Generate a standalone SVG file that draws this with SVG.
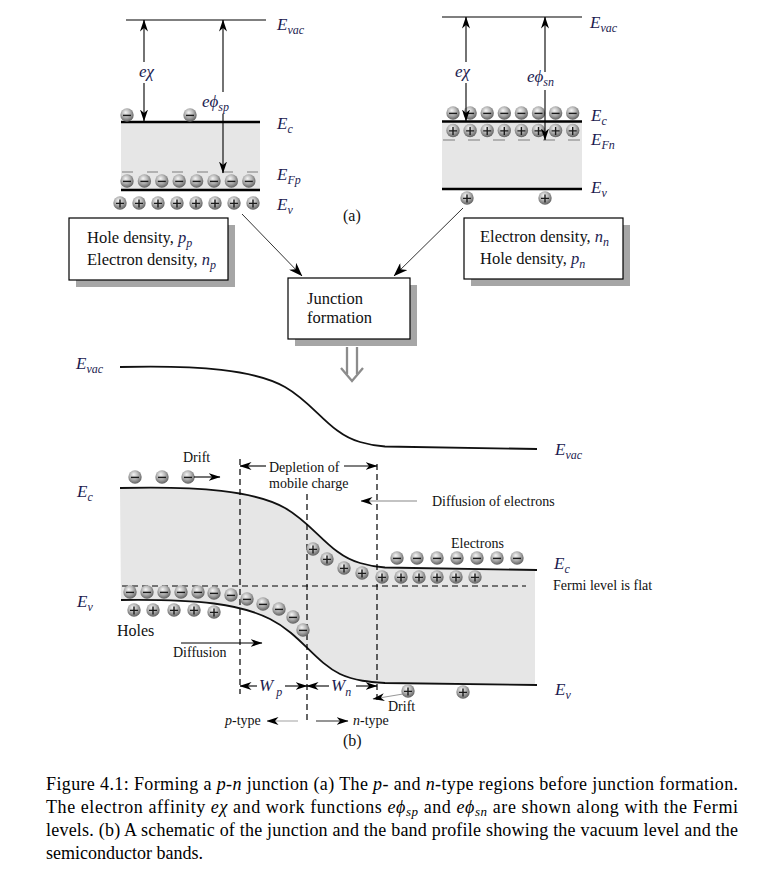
<svg xmlns="http://www.w3.org/2000/svg" width="759" height="871" viewBox="0 0 759 871">
<defs>
<style>
text{font-family:"Liberation Serif","Times New Roman",serif;fill:#111}
.i{font-style:italic;fill:#1c1c50}
.it{font-style:italic}
.lb{font-size:17px}
.sb{font-size:12px}
.bx{font-size:16.5px}
.an{font-size:14px}
.cap{font-size:18px;fill:#000}
.band{stroke:#000;stroke-width:2.4;fill:none}
.thin{stroke:#000;stroke-width:1.2;fill:none}
.curve{stroke:#111;stroke-width:1.8;fill:none}
.dash{stroke:#000;stroke-width:1.2;stroke-dasharray:6 4;fill:none}
.ar{stroke:#000;stroke-width:1.1;fill:none;marker-end:url(#a)}
.grey{fill:#e6e6e6}
.box{fill:#fff;stroke:#000;stroke-width:1.2}
.shadow{fill:#a6a6a6}
</style>
<radialGradient id="sph" cx="0.45" cy="0.4" r="0.6" fx="0.4" fy="0.3">
<stop offset="0" stop-color="#f4f4f4"/><stop offset="0.5" stop-color="#b8b8b8"/><stop offset="1" stop-color="#626262"/>
</radialGradient>
<g id="el"><circle r="6.7" fill="url(#sph)"/><path d="M-4,0.4H4" stroke="#1a1a1a" stroke-width="1.4"/></g>
<g id="ho"><circle r="6.7" fill="url(#sph)"/><path d="M-4,0.4H4M0,-3.6V4.4" stroke="#1a1a1a" stroke-width="1.4"/></g>
<marker id="a" viewBox="0 0 12 8" refX="11.5" refY="4" markerWidth="12" markerHeight="8" markerUnits="userSpaceOnUse" orient="auto"><path d="M0,0L12,4L0,8L3.5,4Z" fill="#000"/></marker>
<marker id="aL" viewBox="0 0 14 10" refX="13.5" refY="5" markerWidth="14" markerHeight="10" markerUnits="userSpaceOnUse" orient="auto"><path d="M0,0L14,5L0,10L4,5Z" fill="#000"/></marker>
</defs>
<rect width="759" height="871" fill="#fff"/>

<!-- (a) p-type -->
<g id="p-bands">
<rect class="grey" x="121" y="122" width="139" height="68"/>
<line x1="122" y1="172" x2="260" y2="172" stroke="#a0a0a0" stroke-width="1.5" stroke-dasharray="11 14"/>
<line class="thin" x1="126" y1="20" x2="266" y2="20"/>
<line class="band" x1="121" y1="122" x2="260" y2="122"/>
<line class="band" x1="121" y1="190" x2="260" y2="190"/>
<use href="#el" x="127" y="115"/><use href="#el" x="190" y="115"/>
<use href="#el" x="127" y="181"/><use href="#el" x="144.4" y="181"/><use href="#el" x="161.8" y="181"/><use href="#el" x="179.2" y="181"/><use href="#el" x="196.6" y="181"/><use href="#el" x="214" y="181"/><use href="#el" x="231.4" y="181"/><use href="#el" x="248.8" y="181"/>
<use href="#ho" x="120" y="203"/><use href="#ho" x="139" y="203"/><use href="#ho" x="158" y="203"/><use href="#ho" x="177" y="203"/><use href="#ho" x="196" y="203"/><use href="#ho" x="215" y="203"/><use href="#ho" x="234" y="203"/><use href="#ho" x="253" y="203"/>
<line class="ar" x1="144" y1="62" x2="144" y2="20"/>
<line class="ar" x1="144" y1="83" x2="144" y2="121"/>
<line class="ar" x1="223" y1="92" x2="223" y2="20"/>
<line class="ar" x1="223" y1="114" x2="223" y2="173"/>
<text class="i lb" x="139" y="77">eχ</text>
<text class="i lb" x="202" y="107">eϕ<tspan class="sb" dy="4">sp</tspan></text>
<text class="i lb" x="277" y="30">E<tspan class="sb" dy="4">vac</tspan></text>
<text class="i lb" x="277" y="129">E<tspan class="sb" dy="4">c</tspan></text>
<text class="i lb" x="277" y="180">E<tspan class="sb" dy="4">Fp</tspan></text>
<text class="i lb" x="277" y="210">E<tspan class="sb" dy="4">v</tspan></text>
</g>

<!-- (a) n-type -->
<g id="n-bands">
<rect class="grey" x="442" y="122" width="140" height="67"/>
<line x1="443" y1="140" x2="582" y2="140" stroke="#a0a0a0" stroke-width="1.5" stroke-dasharray="12 13"/>
<line class="thin" x1="442" y1="17" x2="582" y2="17"/>
<line class="band" x1="442" y1="121.5" x2="582" y2="121.5"/>
<line class="band" x1="442" y1="189" x2="582" y2="189"/>
<use href="#el" x="453" y="113"/><use href="#el" x="470.1" y="113"/><use href="#el" x="487.2" y="113"/><use href="#el" x="504.3" y="113"/><use href="#el" x="521.4" y="113"/><use href="#el" x="538.5" y="113"/><use href="#el" x="555.6" y="113"/><use href="#el" x="572.7" y="113"/>
<use href="#ho" x="453" y="130.5"/><use href="#ho" x="470.1" y="130.5"/><use href="#ho" x="487.2" y="130.5"/><use href="#ho" x="504.3" y="130.5"/><use href="#ho" x="521.4" y="130.5"/><use href="#ho" x="538.5" y="130.5"/><use href="#ho" x="555.6" y="130.5"/><use href="#ho" x="572.7" y="130.5"/>
<use href="#ho" x="467" y="198"/><use href="#ho" x="545" y="198"/>
<line class="ar" x1="466" y1="62" x2="466" y2="17"/>
<line class="ar" x1="466" y1="83" x2="466" y2="121"/>
<line class="ar" x1="545" y1="72" x2="545" y2="17"/>
<line class="ar" x1="545" y1="90" x2="545" y2="140"/>
<text class="i lb" x="455" y="77">eχ</text>
<text class="i lb" x="527" y="82">eϕ<tspan class="sb" dy="4">sn</tspan></text>
<text class="i lb" x="590" y="28">E<tspan class="sb" dy="4">vac</tspan></text>
<text class="i lb" x="591" y="121">E<tspan class="sb" dy="4">c</tspan></text>
<text class="i lb" x="591" y="145">E<tspan class="sb" dy="4">Fn</tspan></text>
<text class="i lb" x="591" y="193">E<tspan class="sb" dy="4">v</tspan></text>
</g>
<text x="343" y="221" font-size="16">(a)</text>

<!-- boxes -->
<g id="box-p">
<rect class="shadow" x="76" y="225" width="159" height="62"/>
<rect class="box" x="69" y="218" width="159" height="62"/>
<text class="bx" x="87" y="243">Hole density, <tspan class="i">p</tspan><tspan class="i sb" dy="4">p</tspan></text>
<text class="bx" x="87" y="265">Electron density, <tspan class="i">n</tspan><tspan class="i sb" dy="4">p</tspan></text>
</g>
<g id="box-n">
<rect class="shadow" x="471" y="225" width="159" height="61"/>
<rect class="box" x="464" y="218" width="159" height="61"/>
<text class="bx" x="480" y="242">Electron density, <tspan class="i">n</tspan><tspan class="i sb" dy="4">n</tspan></text>
<text class="bx" x="480" y="264">Hole density, <tspan class="i">p</tspan><tspan class="i sb" dy="4">n</tspan></text>
</g>
<g id="box-junction">
<rect class="shadow" x="295" y="285" width="122" height="61"/>
<rect class="box" x="288" y="278" width="122" height="61"/>
<text class="bx" x="307" y="304">Junction</text>
<text class="bx" x="307" y="323">formation</text>
</g>

<g id="connectors">
<line x1="242" y1="214" x2="302" y2="276" stroke="#333" stroke-width="1" marker-end="url(#aL)"/>
<line x1="463" y1="208" x2="394" y2="276" stroke="#333" stroke-width="1" marker-end="url(#aL)"/>
<g stroke="#8c8c8c" stroke-width="2.3" fill="none">
<line x1="347" y1="347" x2="347" y2="374"/>
<line x1="357" y1="347" x2="357" y2="374"/>
<polyline points="341,368 352,381 363,368"/>
</g>
</g>

<!-- (b) junction band diagram -->
<g id="junction-bands">
<path class="grey" d="M120,488 C200,486 255,491 285,508 C315,525 330,555 360,563 C370,566 378,567 385,567.5 L535,570 L535,685 L385,683 C370,682 355,681 340,674 C315,662 300,634 270,619 C240,604 200,599 121,600 Z"/>
<path class="curve" d="M120,367 C200,365 255,370 285,387 C315,404 330,434 360,442 C370,445 378,446 385,446.5 L537,449"/>
<path class="curve" d="M120,488 C200,486 255,491 285,508 C315,525 330,555 360,563 C370,566 378,567 385,567.5 L537,570"/>
<path class="curve" d="M121,600 C200,599 240,604 270,619 C300,634 315,662 340,674 C355,681 370,682 385,683 L537,685"/>
<line class="dash" x1="240" y1="459" x2="240" y2="694"/>
<line class="dash" x1="307" y1="494" x2="307" y2="723"/>
<line class="dash" x1="377" y1="464" x2="377" y2="701"/>
<line class="dash" x1="122" y1="586" x2="526" y2="586"/>

<use href="#el" x="135" y="477"/><use href="#el" x="162" y="477"/><use href="#el" x="188" y="477"/>
<use href="#el" x="397" y="558"/><use href="#el" x="417" y="558"/><use href="#el" x="437" y="558"/><use href="#el" x="457" y="558"/><use href="#el" x="477" y="558"/><use href="#el" x="497" y="558"/><use href="#el" x="517" y="558"/>
<use href="#ho" x="313" y="549"/><use href="#ho" x="327" y="559"/><use href="#ho" x="344" y="568"/><use href="#ho" x="362" y="573"/>
<use href="#ho" x="382" y="577"/><use href="#ho" x="401" y="577"/><use href="#ho" x="419" y="577"/><use href="#ho" x="437" y="577"/><use href="#ho" x="456" y="577"/><use href="#ho" x="475" y="577"/>
<use href="#el" x="130" y="592"/><use href="#el" x="147" y="592"/><use href="#el" x="164" y="592"/><use href="#el" x="181" y="592"/><use href="#el" x="198" y="592"/><use href="#el" x="214" y="593"/><use href="#el" x="231" y="595"/>
<use href="#el" x="247" y="599"/><use href="#el" x="263" y="604"/><use href="#el" x="279" y="609"/><use href="#el" x="293" y="617"/><use href="#el" x="303" y="630"/>
<use href="#ho" x="134" y="610"/><use href="#ho" x="153" y="610"/><use href="#ho" x="174" y="610"/><use href="#ho" x="194" y="610"/><use href="#ho" x="214" y="612"/>
<use href="#ho" x="408" y="691"/><use href="#ho" x="463" y="692"/>

<line class="ar" x1="266" y1="466" x2="240" y2="466"/>
<line class="ar" x1="344" y1="466" x2="377" y2="466"/>
<line class="ar" x1="194" y1="477" x2="220" y2="477"/>
<line x1="417" y1="501" x2="361" y2="501" stroke="#888" stroke-width="1.1" marker-end="url(#a)"/>
<line class="ar" x1="181" y1="643" x2="262" y2="643"/>
<line class="ar" x1="257" y1="686" x2="240" y2="686"/>
<line class="ar" x1="285" y1="686" x2="307" y2="686"/>
<line class="ar" x1="329" y1="686" x2="307" y2="686"/>
<line class="ar" x1="356" y1="686" x2="377" y2="686"/>
<line x1="403" y1="694" x2="373" y2="699" stroke="#999" stroke-width="1.1" marker-end="url(#a)"/>
<line x1="298" y1="721" x2="267" y2="721" stroke="#c4c4c4" stroke-width="1.6" marker-end="url(#a)"/>
<line x1="316" y1="721" x2="348" y2="721" stroke="#7a7a7a" stroke-width="1.6" marker-end="url(#a)"/>

<text class="i lb" x="76" y="369">E<tspan class="sb" dy="4">vac</tspan></text>
<text class="i lb" x="555" y="455">E<tspan class="sb" dy="4">vac</tspan></text>
<text class="i lb" x="77" y="497">E<tspan class="sb" dy="4">c</tspan></text>
<text class="i lb" x="554" y="569">E<tspan class="sb" dy="4">c</tspan></text>
<text class="i lb" x="77" y="607">E<tspan class="sb" dy="4">v</tspan></text>
<text class="i lb" x="555" y="695">E<tspan class="sb" dy="4">v</tspan></text>
<text class="an" x="183" y="462">Drift</text>
<text class="an" x="269" y="472">Depletion of</text>
<text class="an" x="269" y="488">mobile charge</text>
<text class="an" x="432" y="506">Diffusion of electrons</text>
<text class="an" x="451" y="548">Electrons</text>
<text class="an" x="553" y="590">Fermi level is flat</text>
<text x="117" y="636" font-size="16">Holes</text>
<text class="an" x="173" y="657">Diffusion</text>
<text class="i lb" x="259" y="691">W<tspan class="sb" dy="5"> p</tspan></text>
<text class="i lb" x="331" y="691">W<tspan class="sb" dy="5">n</tspan></text>
<text class="an" x="388" y="711">Drift</text>
<text class="an" x="225" y="725"><tspan class="it">p</tspan>-type</text>
<text class="an" x="353" y="725"><tspan class="it">n</tspan>-type</text>
<text x="343" y="746" font-size="16">(b)</text>
</g>

<g id="caption">
<text class="cap" x="46" y="790" textLength="692" lengthAdjust="spacing">Figure 4.1: Forming a <tspan class="it">p</tspan>-<tspan class="it">n</tspan> junction (a) The <tspan class="it">p</tspan>- and <tspan class="it">n</tspan>-type regions before junction formation.</text>
<text class="cap" x="46" y="813" textLength="692" lengthAdjust="spacing">The electron affinity <tspan class="it">eχ</tspan> and work functions <tspan class="it">eϕ</tspan><tspan class="it" font-size="13" dy="3">sp</tspan><tspan dy="-3"> and </tspan><tspan class="it">eϕ</tspan><tspan class="it" font-size="13" dy="3">sn</tspan><tspan dy="-3"> are shown along with the Fermi</tspan></text>
<text class="cap" x="46" y="836" textLength="692" lengthAdjust="spacing">levels. (b) A schematic of the junction and the band profile showing the vacuum level and the</text>
<text class="cap" x="46" y="859">semiconductor bands.</text>
</g>
</svg>
